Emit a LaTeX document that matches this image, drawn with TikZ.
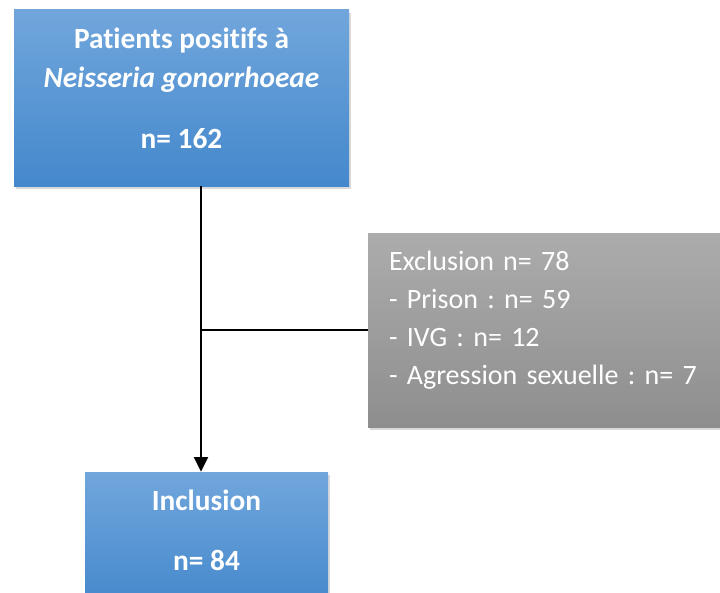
\documentclass[tikz,border=0pt]{standalone}
\usepackage{fontspec}
\setmainfont[Ligatures=NoCommon]{Carlito}
\frenchspacing
\usetikzlibrary{arrows.meta,positioning,shadows}

\definecolor{bluetop}{RGB}{113,166,220}
\definecolor{bluebot}{RGB}{68,136,204}
\definecolor{greytop}{RGB}{172,172,172}
\definecolor{greybot}{RGB}{142,142,142}

\begin{document}
\begin{tikzpicture}[x=0.75pt,y=-0.75pt,
  stepbox/.style={rectangle, top color=bluetop, bottom color=bluebot, text=white,
    font=\fontsize{22}{29.25}\selectfont\bfseries, align=center, inner sep=0pt,
    drop shadow={opacity=0.3, shadow xshift=1.5pt, shadow yshift=-2.5pt}},
  outbox/.style={rectangle, top color=greytop, bottom color=greybot, text=white,
    font=\fontsize{21}{28.5}\selectfont, align=left, inner xsep=15.75pt, inner ysep=0pt,
    drop shadow={opacity=0.3, shadow xshift=1.5pt, shadow yshift=-2.5pt}},
  link/.style={line width=1.6pt}]
\useasboundingbox (0,0) rectangle (720,592);

\node[stepbox, minimum width=251.25pt, minimum height=132pt] (patients) at (181.5,98)
  {Patients positifs à\\\textit{Neisseria gonorrhoeae}\\[16.5pt]n= 162\\[-15pt]\mbox{}};
\node[outbox, text width=247.5pt, minimum height=145.5pt] (exclusion) at (554,330)
  {Exclusion n= 78\\- Prison : n= 59\\- IVG : n= 12\\- Agression sexuelle : n= 7\\[-10.5pt]\mbox{}};
\node[stepbox, minimum width=182.25pt, minimum height=101.25pt] (inclusion) at (206.5,539.5)
  {Inclusion\\[15.75pt]n= 84\\[-15pt]\mbox{}};

\coordinate (junction) at (201,330);
\draw[link,-{Triangle[length=11pt,width=10.5pt]}] (patients.south -| junction) -- (inclusion.north -| junction);
\draw[link] (junction) -- (exclusion.west);
\end{tikzpicture}
\end{document}
